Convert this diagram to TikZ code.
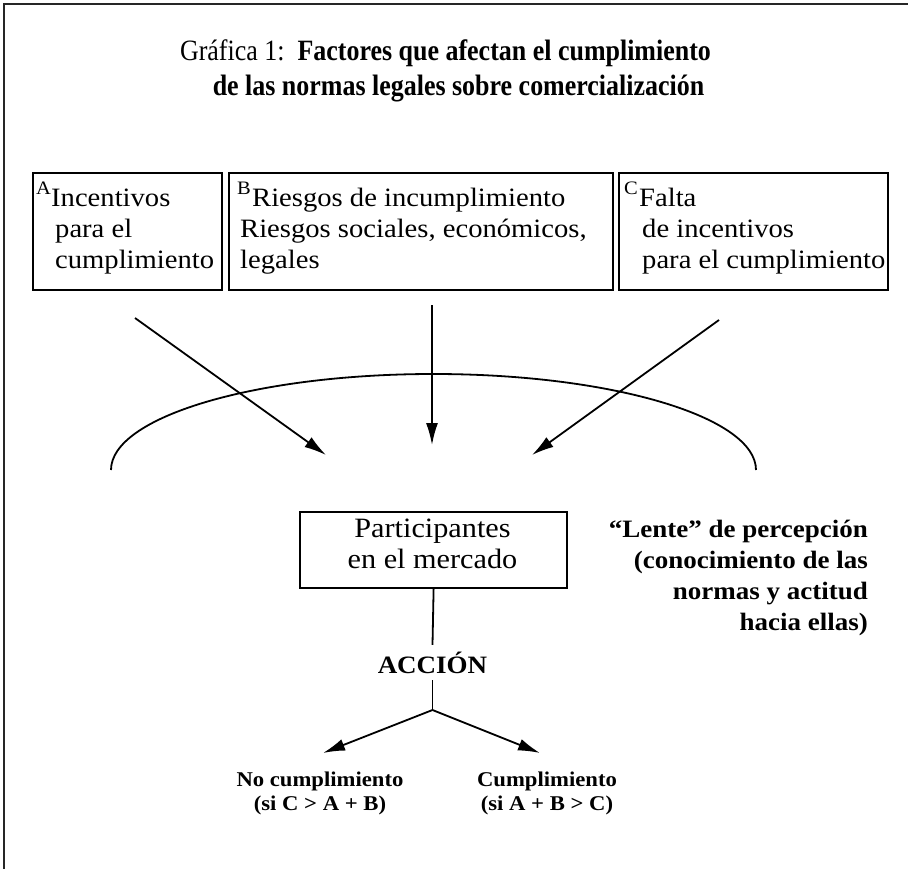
\documentclass[tikz,border=0pt]{standalone}
\usepackage{fontspec}
\setmainfont{Liberation Serif}
\newfontfamily\bodyfont[FakeStretch=1.08]{Liberation Serif}
\newfontfamily\titlefont[FakeStretch=0.88]{Liberation Serif}
\usetikzlibrary{arrows.meta}
\newcommand\myfs[2]{\fontsize{#1pt}{#2pt}\selectfont}
\begin{document}
\begin{tikzpicture}[x=1pt,y=-1pt,
  frame/.style={line width=2.2pt, draw=black!85},
  boxnode/.style={draw, line width=2.2pt, anchor=north west, inner sep=0pt},
  txt/.style={anchor=base west, inner sep=0pt, font=\bodyfont\myfs{26.5}{31}},
  ctxt/.style={anchor=base, inner sep=0pt, font=\bodyfont\myfs{28}{31}},
  supl/.style={anchor=base west, inner sep=0pt, font=\bodyfont\myfs{19}{19}},
  lens/.style={anchor=base east, inner sep=0pt, font=\bodyfont\bfseries\myfs{25}{31}},
  res/.style={anchor=base, inner sep=0pt, font=\bodyfont\bfseries\myfs{21}{23}},
  ttl/.style={anchor=base, inner sep=0pt, font=\titlefont\myfs{29.5}{36}},
  con/.style={line width=1.8pt},
  arr/.style={line width=1.8pt, -{Latex[length=22pt,width=12pt]}},
]
\useasboundingbox (0,0) rectangle (908,869);
\fill[white] (0,0) rectangle (908,869);
% frame (left and top)
\draw[frame] (4,869) -- (4,4) -- (908,4);

% title
\node[ttl] (t1) at (445.5,61) {Gráfica 1:~~\textbf{Factores que afectan el cumplimiento}};
\node[ttl] (t2) at (458.5,96) {\textbf{de las normas legales sobre comercialización}};

% top boxes
\node[boxnode, minimum width=189pt, minimum height=117pt] (A) at (32,172) {};
\node[boxnode, minimum width=384pt, minimum height=117pt] (B) at (228,172) {};
\node[boxnode, minimum width=269pt, minimum height=117pt] (C) at (618,172) {};

% box A text
\node[supl] (As) at (36,195) {A};
\node[txt] (A1) at (51,207) {Incentivos};
\node[txt] (A2) at (55,238) {para el};
\node[txt] (A3) at (55,269) {cumplimiento};
% box B text
\node[supl] (Bs) at (237,195) {B};
\node[txt] (B1) at (252,207) {Riesgos de incumplimiento};
\node[txt] (B2) at (240,238) {Riesgos sociales, económicos,};
\node[txt] (B3) at (240,269) {legales};
% box C text
\node[supl] (Cs) at (624,195) {C};
\node[txt] (C1) at (639,207) {Falta};
\node[txt] (C2) at (642,238) {de incentivos};
\node[txt] (C3) at (642,269) {para el cumplimiento};

% arrows into the lens
\coordinate (a1s) at (135,318);
\coordinate (a1e) at (326,455);
\coordinate (a2s) at (432,305);
\coordinate (a2e) at (432,445);
\coordinate (a3s) at (719,320);
\coordinate (a3e) at (532,455);
\draw[arr] (a1s) -- (a1e);
\draw[arr] (a2s) -- (a2e);
\draw[arr] (a3s) -- (a3e);

% lens arc
\draw[con] (111,470) arc[start angle=180, end angle=360, x radius=322.5, y radius=96];

% participants box
\node[boxnode, minimum width=267pt, minimum height=76pt] (P) at (299,511) {};
\node[ctxt] (P1) at (432.5,537) {Participantes};
\node[ctxt] (P2) at (432.5,568) {en el mercado};

% lens label
\node[lens] (L1) at (868,537) {“Lente” de percepción};
\node[lens] (L2) at (868,568) {(conocimiento de las};
\node[lens] (L3) at (868,599) {normas y actitud};
\node[lens] (L4) at (868,630) {hacia ellas)};

% action
\node[anchor=base, font=\bodyfont\bfseries\myfs{25}{25}, text height=21pt, text depth=0pt, inner xsep=0pt, inner ysep=7pt] (acc) at (432.5,673) {ACCIÓN};
\draw[con] (P.south) -- (acc.north);
\coordinate (br) at (432.5,710);
\draw[con] (acc.south) -- (br);
\coordinate (tl) at (323,753);
\coordinate (tr) at (540,753);
\draw[arr] (br) -- (tl);
\draw[arr] (br) -- (tr);

% outcomes
\node[res] (N1) at (320,786) {No cumplimiento};
\node[res] (N2) at (320,810) {(si C > A + B)};
\node[res] (Y1) at (547,786) {Cumplimiento};
\node[res] (Y2) at (547,810) {(si A + B > C)};
\end{tikzpicture}
\end{document}
